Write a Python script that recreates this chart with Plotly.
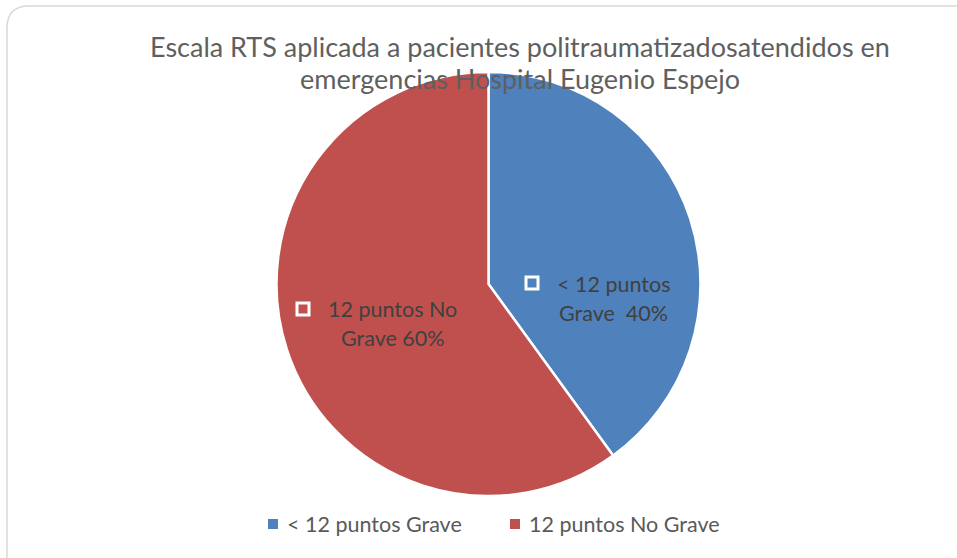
import plotly.graph_objects as go

categories = ["< 12 puntos Grave", "12 puntos No Grave"]
values = [40, 60]
label_lines = [["< 12 puntos", "Grave  40%"], ["12 puntos No", "Grave 60%"]]
colors = ["#4F81BD", "#C0504D"]
title_lines = ["Escala RTS aplicada a pacientes politraumatizadosatendidos en",
               "emergencias Hospital Eugenio Espejo"]

W, H = 957, 558
FONT = "Lato"

def px(x):
    return x / W

def py(y):
    return 1 - y / H

fig = go.Figure()
fig.add_trace(go.Pie(
    labels=categories, values=values, sort=False, direction="clockwise", rotation=0,
    marker=dict(colors=colors, line=dict(color="white", width=2.5)),
    textinfo="none", hoverinfo="label+percent", showlegend=False,
    domain=dict(x=[px(276), px(701)], y=[py(496), py(72)]),
))

annotations = []
shapes = []
# title
for i, t in enumerate(title_lines):
    annotations.append(dict(text=t, x=px(520), y=py(47 + 32 * i), xref="paper", yref="paper",
                            showarrow=False, font=dict(family=FONT, size=27, color="#5F5F5F"),
                            xanchor="center", yanchor="middle"))
# data labels
label_pos = [(613, 284, 532, 283), (392, 309, 303, 309)]
for (tx, ty, sx, sy), lines in zip(label_pos, label_lines):
    for j, ln in enumerate(lines):
        annotations.append(dict(text=ln, x=px(tx), y=py(ty + 29 * j), xref="paper", yref="paper",
                                showarrow=False, font=dict(family=FONT, size=21.5, color="#404040"),
                                xanchor="center", yanchor="middle"))
    shapes.append(dict(type="rect", xref="paper", yref="paper",
                       x0=px(sx - 6), x1=px(sx + 6), y0=py(sy + 6), y1=py(sy - 6),
                       line=dict(color="white", width=3), fillcolor="rgba(0,0,0,0)"))

# legend (built from categories / colors)
leg_x = [268, 510]
for lx, cat, col in zip(leg_x, categories, colors):
    shapes.append(dict(type="rect", xref="paper", yref="paper",
                       x0=px(lx), x1=px(lx + 10), y0=py(529), y1=py(519),
                       line=dict(width=0), fillcolor=col))
    annotations.append(dict(text=cat, x=px(lx + 17), y=py(524), xref="paper", yref="paper",
                            showarrow=False, font=dict(family=FONT, size=21.5, color="#595959"),
                            xanchor="left", yanchor="middle"))

# rounded border
r = 22
x0, y0, x1, y1 = 7, 6, 990, 600
path = (f"M {px(x0)},{py(y1)} L {px(x0)},{py(y0 + r)} "
        f"Q {px(x0)},{py(y0)} {px(x0 + r)},{py(y0)} L {px(x1)},{py(y0)}")
shapes.append(dict(type="path", path=path, xref="paper", yref="paper",
                   line=dict(color="#D9D9D9", width=1.5), layer="below"))

fig.update_layout(
    width=W, height=H, margin=dict(l=0, r=0, t=0, b=0),
    paper_bgcolor="white", plot_bgcolor="white",
    showlegend=False,
    annotations=annotations, shapes=shapes,
)
fig.write_html("out.html", config={"displayModeBar": False},
               post_script="document.body.style.margin='0';document.body.style.overflow='hidden';")
